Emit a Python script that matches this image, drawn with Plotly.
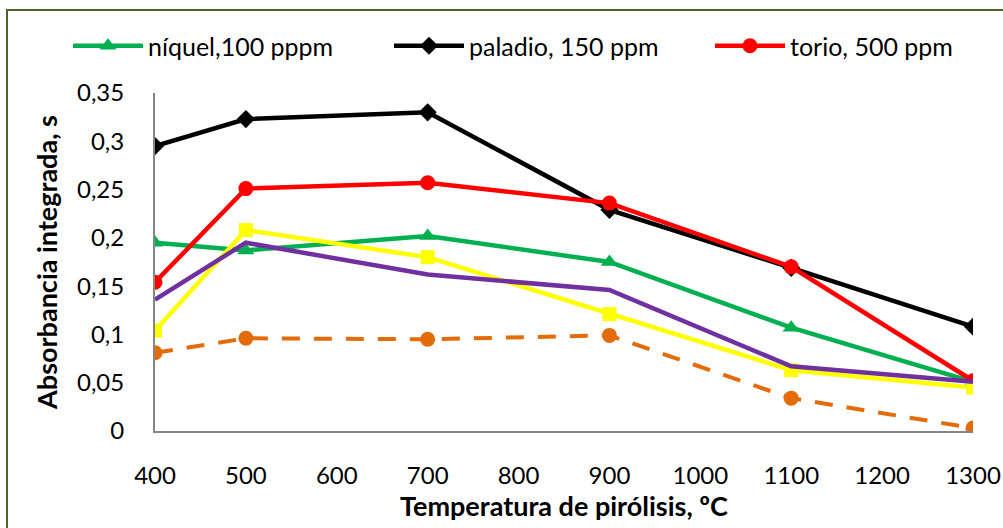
import plotly.graph_objects as go

temps = [400, 500, 700, 900, 1100, 1300]
niquel = [0.195, 0.187, 0.202, 0.175, 0.107, 0.051]
paladio = [0.295, 0.323, 0.330, 0.229, 0.169, 0.108]
torio = [0.154, 0.251, 0.257, 0.236, 0.170, 0.052]
serie_amarilla = [0.104, 0.208, 0.180, 0.121, 0.063, 0.045]
serie_morada = [0.136, 0.195, 0.162, 0.146, 0.067, 0.051]
serie_naranja = [0.081, 0.096, 0.095, 0.099, 0.034, 0.003]

x_ticks = [400, 500, 600, 700, 800, 900, 1000, 1100, 1200, 1300]
y_ticks = [0, 0.05, 0.1, 0.15, 0.2, 0.25, 0.3, 0.35]
y_ticktext = ["0", "0,05", "0,1", "0,15", "0,2", "0,25", "0,3", "0,35"]

FONT = "Lato"
L, R, T, B = 155, 30, 93, 97
PW, PH = 1003 - L - R, 528 - T - B
LW = 4.5

fig = go.Figure()
fig.add_trace(go.Scatter(x=temps, y=niquel, name="níquel,100 pppm", mode="lines+markers",
                         line=dict(color="#00B050", width=LW),
                         marker=dict(symbol="triangle-up", size=15, color="#00B050")))
fig.add_trace(go.Scatter(x=temps, y=paladio, name="paladio, 150 ppm", mode="lines+markers",
                         line=dict(color="#000000", width=LW),
                         marker=dict(symbol="diamond", size=14, color="#000000")))
fig.add_trace(go.Scatter(x=temps, y=torio, name="torio, 500 ppm", mode="lines+markers",
                         line=dict(color="#FF0000", width=LW),
                         marker=dict(symbol="circle", size=15, color="#FF0000")))
fig.add_trace(go.Scatter(x=temps, y=serie_amarilla, name="amarilla", mode="lines+markers",
                         showlegend=False,
                         line=dict(color="#FFFF00", width=LW),
                         marker=dict(symbol="square", size=14, color="#FFFF00")))
fig.add_trace(go.Scatter(x=temps, y=serie_morada, name="morada", mode="lines",
                         showlegend=False,
                         line=dict(color="#7030A0", width=LW)))
fig.add_trace(go.Scatter(x=temps, y=serie_naranja, name="naranja", mode="lines+markers",
                         showlegend=False,
                         line=dict(color="#E36C09", width=4, dash="18px,14px"),
                         marker=dict(symbol="circle", size=15, color="#E36C09")))

fig.update_layout(
    width=1003, height=528,
    margin=dict(l=L, r=R, t=T, b=B, autoexpand=False),
    paper_bgcolor="white", plot_bgcolor="white",
    font=dict(family=FONT, size=24, color="#000000"),
    legend=dict(orientation="h", x=(68 - L) / PW, xanchor="left",
                y=1 + (T - 46) / PH, yanchor="middle",
                font=dict(family=FONT, size=25), itemwidth=70,
                entrywidth=236, entrywidthmode="pixels",
                bgcolor="rgba(0,0,0,0)"),
    xaxis=dict(range=[400, 1300], tickvals=x_ticks, showgrid=False, zeroline=False,
               showline=True, linecolor="#868686", linewidth=2, ticks="",
               ticklabelstandoff=22, automargin=False,
               title=dict(text="<b>Temperatura de pirólisis, ºC</b>", font=dict(size=27), standoff=5)),
    yaxis=dict(range=[0, 0.35], tickvals=y_ticks, ticktext=y_ticktext, showgrid=False,
               zeroline=False, showline=True, linecolor="#868686", linewidth=2, ticks="",
               ticklabelstandoff=24, automargin=False,
               title=dict(text="<b>Absorbancia integrada, s</b>", font=dict(size=27), standoff=12)),
    shapes=[dict(type="rect", xref="paper", yref="paper",
                 x0=(7 - L) / PW, x1=(1012 - L) / PW,
                 y0=(431 - 540) / PH, y1=(431 - 10) / PH,
                 line=dict(color="#4F6228", width=2), fillcolor="rgba(0,0,0,0)", layer="below")],
)

fig.write_html("out.html", config={"displayModeBar": False},
               post_script="document.body.style.margin='0';document.body.style.overflow='hidden';")
